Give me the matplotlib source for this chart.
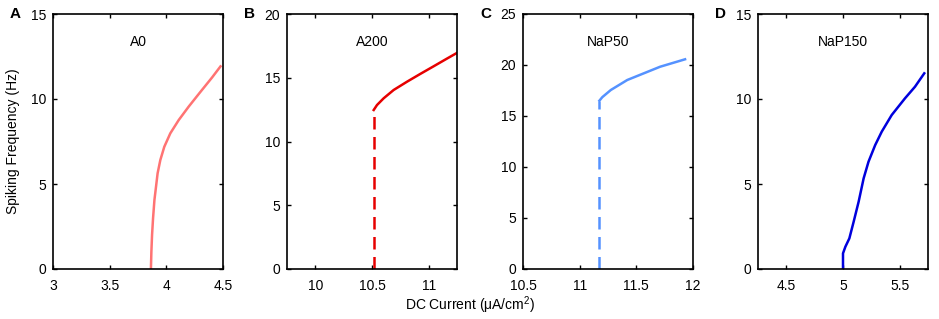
import matplotlib.pyplot as plt

plt.rcParams['font.family'] = ['Liberation Sans', 'DejaVu Sans']
plt.rcParams['mathtext.fontset'] = 'custom'
plt.rcParams['mathtext.rm'] = 'Liberation Sans'
plt.rcParams['mathtext.it'] = 'Liberation Sans'

# Panel A: A0
a0_x = [3.864, 3.868, 3.874, 3.883, 3.895, 3.909, 3.923, 3.947, 3.982, 4.035,
        4.109, 4.197, 4.301, 4.404, 4.478]
a0_y = [0, 1.0, 2.0, 3.0, 4.06, 4.84, 5.63, 6.41, 7.19, 7.98,
        8.76, 9.55, 10.42, 11.27, 11.92]

# Panel B: A200 (jump at threshold)
a200_jump_x = 10.515
a200_jump_y = 12.47
a200_x = [10.515, 10.544, 10.603, 10.691, 10.809, 10.926, 11.044, 11.161, 11.25]
a200_y = [12.47, 12.86, 13.39, 14.04, 14.69, 15.3, 15.9, 16.5, 16.95]

# Panel C: NaP50 (jump at threshold)
nap50_jump_x = 11.174
nap50_jump_y = 16.5
nap50_x = [11.174, 11.2, 11.275, 11.42, 11.565, 11.71, 11.93]
nap50_y = [16.5, 16.85, 17.55, 18.53, 19.18, 19.83, 20.56]

# Panel D: NaP150
nap150_x = [5.0, 5.0, 5.021, 5.056, 5.094, 5.138, 5.182, 5.225, 5.284, 5.342,
            5.43, 5.547, 5.635, 5.717]
nap150_y = [0, 0.92, 1.31, 1.8, 2.78, 3.96, 5.33, 6.31, 7.29, 8.08,
            9.06, 10.04, 10.72, 11.51]

fig = plt.figure(figsize=(9.39, 3.19), dpi=100)

lefts = [53, 287, 523, 758]
W, H = 939, 319
axes = [fig.add_axes([l / W, 1 - 269 / H, 170 / W, 255 / H]) for l in lefts]

panels = [
    dict(name='A0', letter='A', color='#ff7373', xlim=(3, 4.5), xt=[3, 3.5, 4, 4.5],
         ylim=(0, 15), yt=[0, 5, 10, 15]),
    dict(name='A200', letter='B', color='#e60000', xlim=(9.75, 11.25), xt=[10, 10.5, 11],
         ylim=(0, 20), yt=[0, 5, 10, 15, 20]),
    dict(name='NaP50', letter='C', color='#5592ff', xlim=(10.5, 12), xt=[10.5, 11, 11.5, 12],
         ylim=(0, 25), yt=[0, 5, 10, 15, 20, 25]),
    dict(name='NaP150', letter='D', color='#0000dd', xlim=(4.25, 5.75), xt=[4.5, 5, 5.5],
         ylim=(0, 15), yt=[0, 5, 10, 15]),
]

axes[0].plot(a0_x, a0_y, color=panels[0]['color'], lw=1.8)
axes[1].plot([a200_jump_x, a200_jump_x], [0, a200_jump_y], color=panels[1]['color'],
             lw=1.8, dashes=(5, 3))
axes[1].plot(a200_x, a200_y, color=panels[1]['color'], lw=1.8)
axes[2].plot([nap50_jump_x, nap50_jump_x], [0, nap50_jump_y], color=panels[2]['color'],
             lw=1.8, dashes=(5, 3))
axes[2].plot(nap50_x, nap50_y, color=panels[2]['color'], lw=1.8)
axes[3].plot(nap150_x, nap150_y, color=panels[3]['color'], lw=1.8)

for ax, p in zip(axes, panels):
    ax.set_xlim(*p['xlim'])
    ax.set_ylim(*p['ylim'])
    ax.set_xticks(p['xt'])
    ax.set_yticks(p['yt'])
    ax.set_xticklabels([f'{v:g}' for v in p['xt']])
    ax.tick_params(direction='in', top=True, right=True, length=3, width=1,
                   labelsize=10)
    ax.tick_params(axis='x', pad=7)
    ax.tick_params(axis='y', pad=5)
    for s in ax.spines.values():
        s.set_linewidth(1.2)
    ax.text(0.5, 0.89, p['name'], transform=ax.transAxes, ha='center', va='center',
            fontsize=10)
    ax.text(-0.22, 1.0, p['letter'], transform=ax.transAxes, ha='center', va='center',
            fontsize=11, fontweight='bold')

axes[0].set_ylabel('Spiking Frequency (Hz)', fontsize=10, labelpad=8)
fig.text(470 / W, 1 - 305 / H, r'DC Current ($\mu$A/cm$^2$)', ha='center', va='center',
         fontsize=10)

fig.savefig('out.png', dpi=100)
plt.close(fig)
